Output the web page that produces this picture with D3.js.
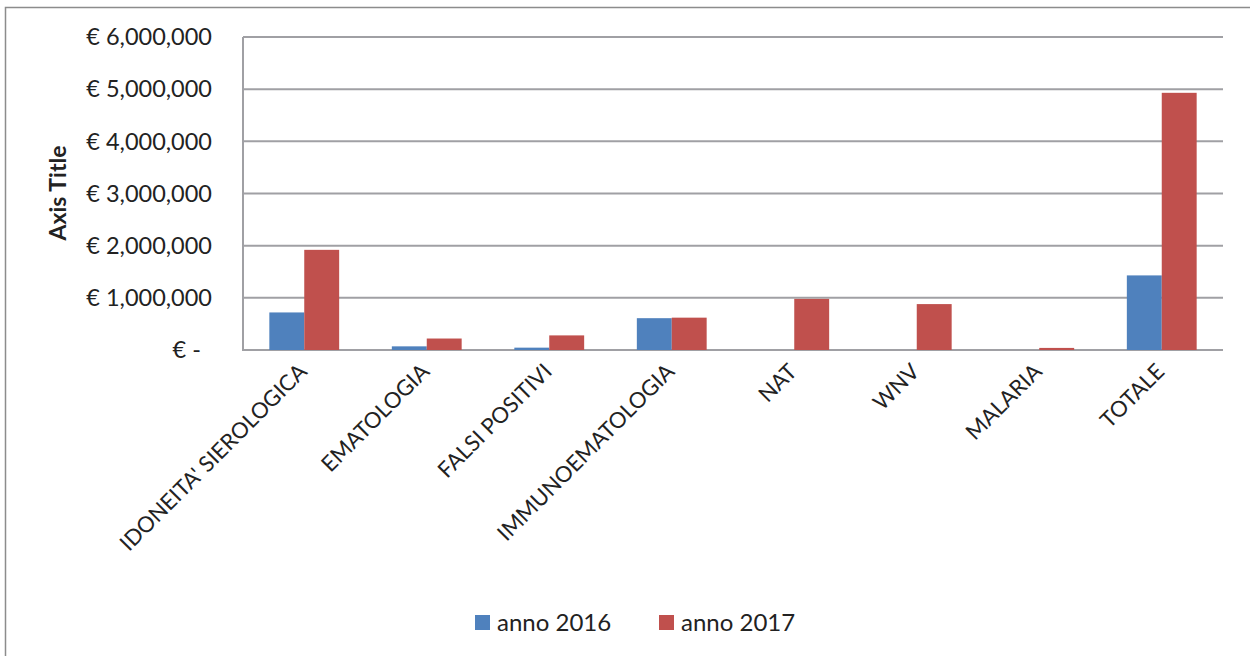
<!DOCTYPE html>
<html><head><meta charset="utf-8">
<script src="https://cdn.jsdelivr.net/npm/d3@7"></script>
<style>body{margin:0;background:#fff}svg{display:block}text{font-family:Lato,"Open Sans",sans-serif;fill:#222}</style>
</head><body><svg id="c" width="1250" height="656"></svg>
<script>
const categories = ["IDONEITA' SIEROLOGICA","EMATOLOGIA","FALSI POSITIVI","IMMUNOEMATOLOGIA","NAT","WNV","MALARIA","TOTALE"];
const series = ["anno 2016","anno 2017"];
const values2016 = [720000, 70000, 45000, 610000, 0, 0, 0, 1430000];
const values2017 = [1920000, 220000, 280000, 620000, 980000, 880000, 40000, 4930000];
const yTicks = [0,1000000,2000000,3000000,4000000,5000000,6000000];
const colors = ["#4f81bd","#c0504d"];

const svg = d3.select("#c");
svg.append("rect").attr("x",5.5).attr("y",7.5).attr("width",1260).attr("height",660)
  .attr("fill","none").attr("stroke","#8c8c8c").attr("stroke-width",1.5);

const L=243,R=1223,T=37,B=350;
const x = d3.scaleBand().domain(categories).range([L,R]).paddingInner(0.43).paddingOuter(0.215);
const xs = d3.scaleBand().domain(series).range([0,x.bandwidth()]);
const y = d3.scaleLinear().domain([0,6000000]).range([B,T]);

svg.append("g").selectAll("line").data(yTicks).join("line")
  .attr("x1",L).attr("x2",R).attr("y1",d=>y(d)).attr("y2",d=>y(d))
  .attr("stroke","#a0a0a4").attr("stroke-width",2);
svg.append("line").attr("x1",L).attr("x2",L).attr("y1",T).attr("y2",B+1)
  .attr("stroke","#a0a0a4").attr("stroke-width",2);
svg.append("g").selectAll("text").data(yTicks).join("text")
  .attr("x",212).attr("y",d=>y(d)).attr("dy","0.35em").attr("text-anchor","end")
  .attr("font-size",23.5).text(d=>d===0?"€ -":"€ " + d3.format(",")(d))
  .attr("dx",d=>d===0?-11:0);

svg.append("text").attr("transform","translate(66,193) rotate(-90)")
  .attr("text-anchor","middle").attr("font-size",23).attr("font-weight","bold").text("Axis Title");

const data = [values2016, values2017];
const g = svg.append("g");
series.forEach((s,i)=>{
  g.append("g").selectAll("rect").data(categories).join("rect")
    .attr("x",c=>x(c)+xs(s)).attr("width",xs.bandwidth())
    .attr("y",(c,j)=>y(data[i][j])).attr("height",(c,j)=>B-y(data[i][j]))
    .attr("fill",colors[i]);
});

svg.append("g").selectAll("text").data(categories).join("text")
  .attr("transform",c=>`translate(${x(c)+x.bandwidth()/2+4},${373}) rotate(-45)`)
  .attr("text-anchor","end").attr("font-size",22).text(c=>c);

const leg = svg.append("g");
const lx=[475,659];
series.forEach((s,i)=>{
  leg.append("rect").attr("x",lx[i]).attr("y",615).attr("width",15).attr("height",15).attr("fill",colors[i]);
  leg.append("text").attr("x",lx[i]+22).attr("y",622.5).attr("dy","0.35em").attr("font-size",24).text(s);
});
</script></body></html>
